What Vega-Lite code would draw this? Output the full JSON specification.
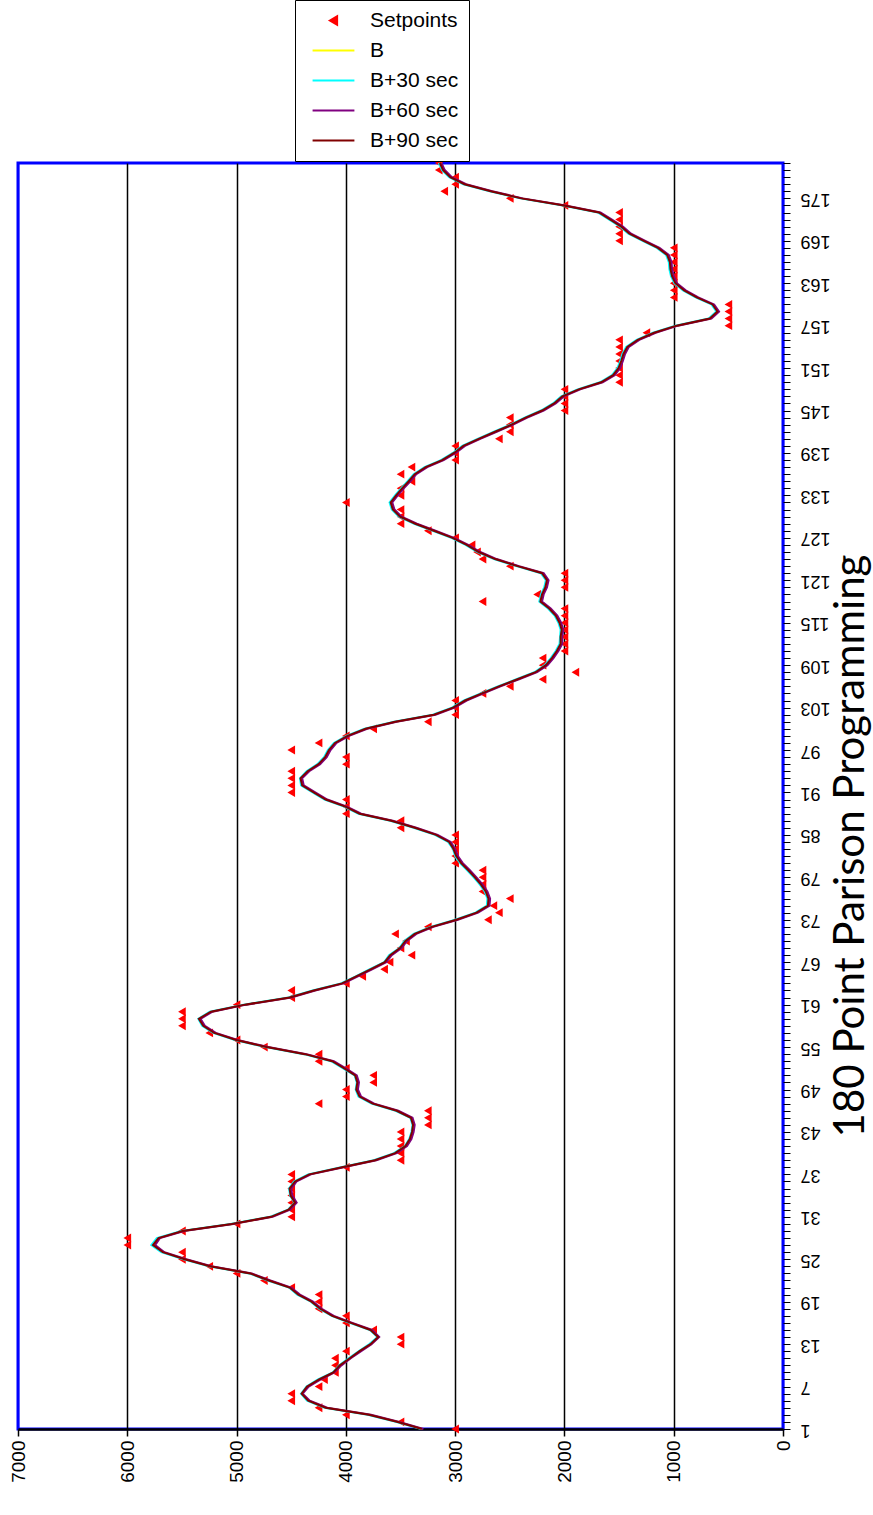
{
  "$schema": "https://vega.github.io/schema/vega-lite/v6.json",
  "width": 765,
  "height": 1266,
  "autosize": {"type": "none"},
  "padding": {"left": 18, "top": 163, "right": 90, "bottom": 86},
  "background": "white",
  "title": {
    "text": "180 Point Parison Programming",
    "orient": "right",
    "angle": -90,
    "anchor": "middle",
    "baseline": "bottom",
    "font": "Lato",
    "fontSize": 42,
    "fontWeight": "normal",
    "color": "black",
    "offset": 1,
    "dx": -50
  },
  "data": {
    "values": [
      {"i":1,"sp":3000,"b":3300,"b30":3310,"b60":3290,"b90":3305},
      {"i":2,"sp":3500,"b":3520,"b30":3535,"b60":3510,"b90":3525},
      {"i":3,"sp":4000,"b":3780,"b30":3800,"b60":3770,"b90":3790},
      {"i":4,"sp":4250,"b":4180,"b30":4195,"b60":4170,"b90":4185},
      {"i":5,"sp":4500,"b":4340,"b30":4355,"b60":4330,"b90":4345},
      {"i":6,"sp":4500,"b":4400,"b30":4410,"b60":4395,"b90":4405},
      {"i":7,"sp":4250,"b":4350,"b30":4360,"b60":4340,"b90":4355},
      {"i":8,"sp":4200,"b":4240,"b30":4255,"b60":4230,"b90":4245},
      {"i":9,"sp":4100,"b":4110,"b30":4120,"b60":4105,"b90":4115},
      {"i":10,"sp":4100,"b":4050,"b30":4060,"b60":4040,"b90":4055},
      {"i":11,"sp":4100,"b":3960,"b30":3975,"b60":3955,"b90":3965},
      {"i":12,"sp":4000,"b":3870,"b30":3880,"b60":3860,"b90":3875},
      {"i":13,"sp":3500,"b":3770,"b30":3785,"b60":3765,"b90":3775},
      {"i":14,"sp":3500,"b":3700,"b30":3710,"b60":3695,"b90":3705},
      {"i":15,"sp":3750,"b":3770,"b30":3780,"b60":3760,"b90":3775},
      {"i":16,"sp":4000,"b":3950,"b30":3965,"b60":3940,"b90":3955},
      {"i":17,"sp":4000,"b":4120,"b30":4130,"b60":4110,"b90":4125},
      {"i":18,"sp":4250,"b":4230,"b30":4245,"b60":4220,"b90":4235},
      {"i":19,"sp":4250,"b":4310,"b30":4320,"b60":4300,"b90":4315},
      {"i":20,"sp":4250,"b":4430,"b30":4445,"b60":4420,"b90":4435},
      {"i":21,"sp":4500,"b":4510,"b30":4520,"b60":4500,"b90":4515},
      {"i":22,"sp":4750,"b":4700,"b30":4715,"b60":4690,"b90":4705},
      {"i":23,"sp":5000,"b":4870,"b30":4885,"b60":4860,"b90":4875},
      {"i":24,"sp":5250,"b":5240,"b30":5255,"b60":5230,"b90":5245},
      {"i":25,"sp":5500,"b":5470,"b30":5485,"b60":5460,"b90":5475},
      {"i":26,"sp":5500,"b":5670,"b30":5690,"b60":5660,"b90":5675},
      {"i":27,"sp":6000,"b":5760,"b30":5780,"b60":5745,"b90":5765},
      {"i":28,"sp":6000,"b":5710,"b30":5730,"b60":5700,"b90":5715},
      {"i":29,"sp":5500,"b":5490,"b30":5505,"b60":5480,"b90":5495},
      {"i":30,"sp":5000,"b":5040,"b30":5055,"b60":5030,"b90":5045},
      {"i":31,"sp":4500,"b":4680,"b30":4695,"b60":4670,"b90":4685},
      {"i":32,"sp":4500,"b":4520,"b30":4530,"b60":4510,"b90":4525},
      {"i":33,"sp":4500,"b":4460,"b30":4470,"b60":4450,"b90":4465},
      {"i":34,"sp":4500,"b":4500,"b30":4510,"b60":4490,"b90":4505},
      {"i":35,"sp":4500,"b":4510,"b30":4520,"b60":4500,"b90":4515},
      {"i":36,"sp":4500,"b":4460,"b30":4475,"b60":4450,"b90":4465},
      {"i":37,"sp":4500,"b":4330,"b30":4345,"b60":4320,"b90":4335},
      {"i":38,"sp":4000,"b":4030,"b30":4045,"b60":4020,"b90":4035},
      {"i":39,"sp":3500,"b":3730,"b30":3745,"b60":3720,"b90":3735},
      {"i":40,"sp":3500,"b":3545,"b30":3560,"b60":3535,"b90":3550},
      {"i":41,"sp":3500,"b":3450,"b30":3460,"b60":3440,"b90":3455},
      {"i":42,"sp":3500,"b":3410,"b30":3420,"b60":3400,"b90":3415},
      {"i":43,"sp":3500,"b":3390,"b30":3400,"b60":3380,"b90":3395},
      {"i":44,"sp":3250,"b":3380,"b30":3390,"b60":3370,"b90":3385},
      {"i":45,"sp":3250,"b":3400,"b30":3410,"b60":3390,"b90":3405},
      {"i":46,"sp":3250,"b":3530,"b30":3545,"b60":3520,"b90":3535},
      {"i":47,"sp":4250,"b":3750,"b30":3765,"b60":3740,"b90":3755},
      {"i":48,"sp":4000,"b":3870,"b30":3885,"b60":3860,"b90":3875},
      {"i":49,"sp":4000,"b":3900,"b30":3910,"b60":3890,"b90":3905},
      {"i":50,"sp":3750,"b":3890,"b30":3900,"b60":3880,"b90":3895},
      {"i":51,"sp":3750,"b":3910,"b30":3920,"b60":3900,"b90":3915},
      {"i":52,"sp":4000,"b":4010,"b30":4025,"b60":4000,"b90":4015},
      {"i":53,"sp":4250,"b":4120,"b30":4135,"b60":4110,"b90":4125},
      {"i":54,"sp":4250,"b":4370,"b30":4385,"b60":4360,"b90":4375},
      {"i":55,"sp":4750,"b":4720,"b30":4735,"b60":4710,"b90":4725},
      {"i":56,"sp":5000,"b":5000,"b30":5015,"b60":4990,"b90":5005},
      {"i":57,"sp":5250,"b":5200,"b30":5215,"b60":5190,"b90":5205},
      {"i":58,"sp":5500,"b":5300,"b30":5315,"b60":5290,"b90":5305},
      {"i":59,"sp":5500,"b":5340,"b30":5350,"b60":5330,"b90":5345},
      {"i":60,"sp":5500,"b":5230,"b30":5245,"b60":5220,"b90":5235},
      {"i":61,"sp":5000,"b":4920,"b30":4935,"b60":4910,"b90":4925},
      {"i":62,"sp":4500,"b":4510,"b30":4525,"b60":4500,"b90":4515},
      {"i":63,"sp":4500,"b":4290,"b30":4305,"b60":4280,"b90":4295},
      {"i":64,"sp":4000,"b":4030,"b30":4045,"b60":4020,"b90":4035},
      {"i":65,"sp":3850,"b":3900,"b30":3910,"b60":3890,"b90":3905},
      {"i":66,"sp":3650,"b":3770,"b30":3785,"b60":3760,"b90":3775},
      {"i":67,"sp":3600,"b":3640,"b30":3650,"b60":3630,"b90":3645},
      {"i":68,"sp":3400,"b":3590,"b30":3605,"b60":3580,"b90":3595},
      {"i":69,"sp":3500,"b":3500,"b30":3510,"b60":3490,"b90":3505},
      {"i":70,"sp":3450,"b":3450,"b30":3465,"b60":3440,"b90":3455},
      {"i":71,"sp":3550,"b":3365,"b30":3380,"b60":3355,"b90":3370},
      {"i":72,"sp":3250,"b":3210,"b30":3225,"b60":3200,"b90":3215},
      {"i":73,"sp":2700,"b":2985,"b30":3000,"b60":2975,"b90":2990},
      {"i":74,"sp":2600,"b":2800,"b30":2815,"b60":2790,"b90":2805},
      {"i":75,"sp":2650,"b":2695,"b30":2710,"b60":2685,"b90":2700},
      {"i":76,"sp":2500,"b":2690,"b30":2705,"b60":2680,"b90":2695},
      {"i":77,"sp":2750,"b":2715,"b30":2730,"b60":2705,"b90":2720},
      {"i":78,"sp":2750,"b":2760,"b30":2775,"b60":2750,"b90":2765},
      {"i":79,"sp":2750,"b":2815,"b30":2830,"b60":2805,"b90":2820},
      {"i":80,"sp":2750,"b":2875,"b30":2890,"b60":2865,"b90":2880},
      {"i":81,"sp":3000,"b":2940,"b30":2955,"b60":2930,"b90":2945},
      {"i":82,"sp":3000,"b":2985,"b30":3000,"b60":2975,"b90":2990},
      {"i":83,"sp":3000,"b":3010,"b30":3020,"b60":3000,"b90":3015},
      {"i":84,"sp":3000,"b":3050,"b30":3065,"b60":3040,"b90":3055},
      {"i":85,"sp":3000,"b":3170,"b30":3185,"b60":3160,"b90":3175},
      {"i":86,"sp":3500,"b":3365,"b30":3380,"b60":3355,"b90":3370},
      {"i":87,"sp":3500,"b":3580,"b30":3595,"b60":3570,"b90":3585},
      {"i":88,"sp":4000,"b":3870,"b30":3885,"b60":3860,"b90":3875},
      {"i":89,"sp":4000,"b":4000,"b30":4015,"b60":3990,"b90":4005},
      {"i":90,"sp":4000,"b":4180,"b30":4195,"b60":4170,"b90":4185},
      {"i":91,"sp":4500,"b":4290,"b30":4305,"b60":4280,"b90":4295},
      {"i":92,"sp":4500,"b":4395,"b30":4410,"b60":4385,"b90":4400},
      {"i":93,"sp":4500,"b":4410,"b30":4420,"b60":4400,"b90":4415},
      {"i":94,"sp":4500,"b":4345,"b30":4360,"b60":4335,"b90":4350},
      {"i":95,"sp":4000,"b":4245,"b30":4260,"b60":4235,"b90":4250},
      {"i":96,"sp":4000,"b":4185,"b30":4200,"b60":4175,"b90":4190},
      {"i":97,"sp":4500,"b":4150,"b30":4165,"b60":4140,"b90":4155},
      {"i":98,"sp":4250,"b":4095,"b30":4110,"b60":4085,"b90":4100},
      {"i":99,"sp":4000,"b":3980,"b30":3995,"b60":3970,"b90":3985},
      {"i":100,"sp":3750,"b":3815,"b30":3830,"b60":3805,"b90":3820},
      {"i":101,"sp":3250,"b":3545,"b30":3560,"b60":3535,"b90":3550},
      {"i":102,"sp":3000,"b":3190,"b30":3205,"b60":3180,"b90":3195},
      {"i":103,"sp":3000,"b":3015,"b30":3030,"b60":3005,"b90":3020},
      {"i":104,"sp":3000,"b":2905,"b30":2920,"b60":2895,"b90":2910},
      {"i":105,"sp":2750,"b":2750,"b30":2765,"b60":2740,"b90":2755},
      {"i":106,"sp":2500,"b":2595,"b30":2610,"b60":2585,"b90":2600},
      {"i":107,"sp":2200,"b":2425,"b30":2440,"b60":2415,"b90":2430},
      {"i":108,"sp":1900,"b":2260,"b30":2275,"b60":2250,"b90":2265},
      {"i":109,"sp":2200,"b":2165,"b30":2180,"b60":2155,"b90":2170},
      {"i":110,"sp":2200,"b":2110,"b30":2125,"b60":2100,"b90":2115},
      {"i":111,"sp":2000,"b":2065,"b30":2080,"b60":2055,"b90":2070},
      {"i":112,"sp":2000,"b":2030,"b30":2045,"b60":2020,"b90":2035},
      {"i":113,"sp":2000,"b":2030,"b30":2040,"b60":2020,"b90":2035},
      {"i":114,"sp":2000,"b":2020,"b30":2035,"b60":2010,"b90":2025},
      {"i":115,"sp":2000,"b":2040,"b30":2055,"b60":2030,"b90":2045},
      {"i":116,"sp":2000,"b":2075,"b30":2090,"b60":2065,"b90":2080},
      {"i":117,"sp":2000,"b":2135,"b30":2150,"b60":2125,"b90":2140},
      {"i":118,"sp":2750,"b":2215,"b30":2230,"b60":2205,"b90":2220},
      {"i":119,"sp":2250,"b":2200,"b30":2215,"b60":2190,"b90":2205},
      {"i":120,"sp":2000,"b":2170,"b30":2185,"b60":2160,"b90":2175},
      {"i":121,"sp":2000,"b":2155,"b30":2170,"b60":2145,"b90":2160},
      {"i":122,"sp":2000,"b":2200,"b30":2215,"b60":2190,"b90":2205},
      {"i":123,"sp":2500,"b":2425,"b30":2440,"b60":2415,"b90":2430},
      {"i":124,"sp":2750,"b":2630,"b30":2645,"b60":2620,"b90":2635},
      {"i":125,"sp":2800,"b":2780,"b30":2795,"b60":2770,"b90":2785},
      {"i":126,"sp":2850,"b":2890,"b30":2905,"b60":2880,"b90":2895},
      {"i":127,"sp":3000,"b":3020,"b30":3035,"b60":3010,"b90":3025},
      {"i":128,"sp":3250,"b":3190,"b30":3205,"b60":3180,"b90":3195},
      {"i":129,"sp":3500,"b":3360,"b30":3375,"b60":3350,"b90":3365},
      {"i":130,"sp":3500,"b":3500,"b30":3515,"b60":3490,"b90":3505},
      {"i":131,"sp":3500,"b":3565,"b30":3580,"b60":3555,"b90":3570},
      {"i":132,"sp":4000,"b":3585,"b30":3600,"b60":3575,"b90":3590},
      {"i":133,"sp":3500,"b":3535,"b30":3550,"b60":3525,"b90":3540},
      {"i":134,"sp":3500,"b":3480,"b30":3495,"b60":3470,"b90":3485},
      {"i":135,"sp":3400,"b":3420,"b30":3435,"b60":3410,"b90":3425},
      {"i":136,"sp":3500,"b":3365,"b30":3380,"b60":3355,"b90":3370},
      {"i":137,"sp":3400,"b":3265,"b30":3280,"b60":3255,"b90":3270},
      {"i":138,"sp":3000,"b":3115,"b30":3130,"b60":3105,"b90":3120},
      {"i":139,"sp":3000,"b":3005,"b30":3020,"b60":2995,"b90":3010},
      {"i":140,"sp":3000,"b":2920,"b30":2935,"b60":2910,"b90":2925},
      {"i":141,"sp":2600,"b":2780,"b30":2795,"b60":2770,"b90":2785},
      {"i":142,"sp":2500,"b":2630,"b30":2645,"b60":2620,"b90":2635},
      {"i":143,"sp":2500,"b":2480,"b30":2495,"b60":2470,"b90":2485},
      {"i":144,"sp":2500,"b":2350,"b30":2365,"b60":2340,"b90":2355},
      {"i":145,"sp":2000,"b":2200,"b30":2215,"b60":2190,"b90":2205},
      {"i":146,"sp":2000,"b":2090,"b30":2105,"b60":2080,"b90":2095},
      {"i":147,"sp":2000,"b":2015,"b30":2030,"b60":2005,"b90":2020},
      {"i":148,"sp":2000,"b":1865,"b30":1880,"b60":1855,"b90":1870},
      {"i":149,"sp":1500,"b":1660,"b30":1675,"b60":1650,"b90":1665},
      {"i":150,"sp":1500,"b":1550,"b30":1565,"b60":1540,"b90":1555},
      {"i":151,"sp":1500,"b":1500,"b30":1515,"b60":1490,"b90":1505},
      {"i":152,"sp":1500,"b":1475,"b30":1490,"b60":1465,"b90":1480},
      {"i":153,"sp":1500,"b":1455,"b30":1470,"b60":1445,"b90":1460},
      {"i":154,"sp":1500,"b":1420,"b30":1435,"b60":1410,"b90":1425},
      {"i":155,"sp":1500,"b":1325,"b30":1340,"b60":1315,"b90":1330},
      {"i":156,"sp":1250,"b":1175,"b30":1190,"b60":1165,"b90":1180},
      {"i":157,"sp":500,"b":970,"b30":985,"b60":960,"b90":975},
      {"i":158,"sp":500,"b":665,"b30":680,"b60":655,"b90":670},
      {"i":159,"sp":500,"b":595,"b30":610,"b60":585,"b90":600},
      {"i":160,"sp":500,"b":640,"b30":655,"b60":630,"b90":645},
      {"i":161,"sp":1000,"b":785,"b30":800,"b60":775,"b90":790},
      {"i":162,"sp":1000,"b":900,"b30":915,"b60":890,"b90":905},
      {"i":163,"sp":1000,"b":980,"b30":995,"b60":970,"b90":985},
      {"i":164,"sp":1000,"b":1010,"b30":1025,"b60":1000,"b90":1015},
      {"i":165,"sp":1000,"b":1025,"b30":1040,"b60":1015,"b90":1030},
      {"i":166,"sp":1000,"b":1030,"b30":1045,"b60":1020,"b90":1035},
      {"i":167,"sp":1000,"b":1055,"b30":1070,"b60":1045,"b90":1060},
      {"i":168,"sp":1000,"b":1140,"b30":1155,"b60":1130,"b90":1145},
      {"i":169,"sp":1500,"b":1270,"b30":1285,"b60":1260,"b90":1275},
      {"i":170,"sp":1500,"b":1400,"b30":1415,"b60":1390,"b90":1405},
      {"i":171,"sp":1500,"b":1475,"b30":1490,"b60":1465,"b90":1480},
      {"i":172,"sp":1500,"b":1575,"b30":1590,"b60":1565,"b90":1580},
      {"i":173,"sp":1500,"b":1680,"b30":1695,"b60":1670,"b90":1685},
      {"i":174,"sp":2000,"b":2000,"b30":2015,"b60":1990,"b90":2005},
      {"i":175,"sp":2500,"b":2390,"b30":2405,"b60":2380,"b90":2395},
      {"i":176,"sp":3100,"b":2670,"b30":2685,"b60":2660,"b90":2675},
      {"i":177,"sp":3000,"b":2910,"b30":2925,"b60":2900,"b90":2915},
      {"i":178,"sp":3000,"b":3040,"b30":3055,"b60":3030,"b90":3045},
      {"i":179,"sp":3150,"b":3105,"b30":3120,"b60":3095,"b90":3110},
      {"i":180,"sp":3150,"b":3135,"b30":3150,"b60":3125,"b90":3140}
    ]
  },
  "encoding": {
    "y": {
      "field": "i",
      "type": "quantitative",
      "title": null,
      "scale": {"domain": [1, 180], "nice": false, "zero": false},
      "axis": {
        "orient": "right",
        "tickCount": 180,
        "labelExpr": "(datum.value - 1) % 6 === 0 ? datum.label : ''",
        "labelAngle": 180,
        "labelAlign": "right",
        "labelBaseline": "middle",
        "labelFont": "Liberation Sans",
        "labelFontSize": 18,
        "labelColor": "black",
        "labelOverlap": false,
        "labelFlush": false,
        "labelPadding": 10,
        "tickSize": 7,
        "tickColor": "black",
        "tickWidth": 1,
        "domain": false,
        "grid": false
      }
    }
  },
  "layer": [
    {
      "mark": {"type": "point", "filled": true, "size": 78, "opacity": 1},
      "encoding": {
        "x": {
          "field": "sp",
          "type": "quantitative",
          "title": null,
          "scale": {"domain": [0, 7000], "reverse": true, "nice": false, "zero": false},
          "axis": {
            "orient": "bottom",
            "values": [0, 1000, 2000, 3000, 4000, 5000, 6000, 7000],
            "format": "d",
            "labelAngle": -90,
            "labelAlign": "right",
            "labelBaseline": "middle",
            "labelFont": "Liberation Sans",
            "labelFontSize": 19,
            "labelColor": "black",
            "labelFlush": false,
            "labelOverlap": false,
            "labelPadding": 4,
            "tickSize": 7,
            "tickColor": "black",
            "tickWidth": 1.5,
            "domainColor": "black",
            "domainWidth": 2.5,
            "grid": true,
            "gridColor": {"condition": {"test": "datum.value === 0 || datum.value === 7000", "value": "#0000FF"}, "value": "#000000"},
            "gridWidth": 1.5,
            "gridOpacity": 1
          }
        },
        "color": {
          "datum": "Setpoints",
          "type": "nominal",
          "scale": {
            "domain": ["Setpoints", "B", "B+30 sec", "B+60 sec", "B+90 sec"],
            "range": ["#FF0000", "#FFFF00", "#00FFFF", "#800080", "#800000"]
          },
          "legend": {
            "title": null,
            "orient": "none",
            "legendX": 277,
            "legendY": -163,
            "direction": "vertical",
            "padding": 10,
            "rowPadding": 8,
            "strokeColor": "black",
            "fillColor": "white",
            "labelFont": "Liberation Sans",
            "labelFontSize": 21,
            "labelColor": "black",
            "labelLimit": 300,
            "symbolSize": 70,
            "symbolStrokeWidth": 2,
            "symbolOffset": 18,
            "labelOffset": 26,
            "symbolOpacity": 1
          }
        },
        "shape": {
          "datum": "Setpoints",
          "type": "nominal",
          "scale": {
            "domain": ["Setpoints", "B", "B+30 sec", "B+60 sec", "B+90 sec"],
            "range": ["triangle-left", "M-5,0L5,0", "M-5,0L5,0", "M-5,0L5,0", "M-5,0L5,0"]
          },
          "legend": {
            "title": null,
            "orient": "none",
            "legendX": 277,
            "legendY": -163,
            "direction": "vertical",
            "padding": 10,
            "rowPadding": 8,
            "strokeColor": "black",
            "fillColor": "white",
            "labelFont": "Liberation Sans",
            "labelFontSize": 21,
            "labelColor": "black",
            "labelLimit": 300,
            "symbolSize": 70,
            "symbolStrokeWidth": 2,
            "symbolOffset": 18,
            "labelOffset": 26,
            "symbolOpacity": 1
          }
        }
      }
    },
    {
      "mark": {"type": "line", "strokeWidth": 2},
      "encoding": {
        "x": {"field": "b", "type": "quantitative", "title": null},
        "order": {"field": "i", "type": "quantitative"},
        "color": {"datum": "B", "type": "nominal"}
      }
    },
    {
      "mark": {"type": "line", "strokeWidth": 2},
      "encoding": {
        "x": {"field": "b30", "type": "quantitative", "title": null},
        "order": {"field": "i", "type": "quantitative"},
        "color": {"datum": "B+30 sec", "type": "nominal"}
      }
    },
    {
      "mark": {"type": "line", "strokeWidth": 2},
      "encoding": {
        "x": {"field": "b60", "type": "quantitative", "title": null},
        "order": {"field": "i", "type": "quantitative"},
        "color": {"datum": "B+60 sec", "type": "nominal"}
      }
    },
    {
      "mark": {"type": "line", "strokeWidth": 2},
      "encoding": {
        "x": {"field": "b90", "type": "quantitative", "title": null},
        "order": {"field": "i", "type": "quantitative"},
        "color": {"datum": "B+90 sec", "type": "nominal"}
      }
    }
  ],
  "config": {
    "font": "Liberation Sans",
    "view": {"stroke": "#0000FF", "strokeWidth": 3}
  }
}
